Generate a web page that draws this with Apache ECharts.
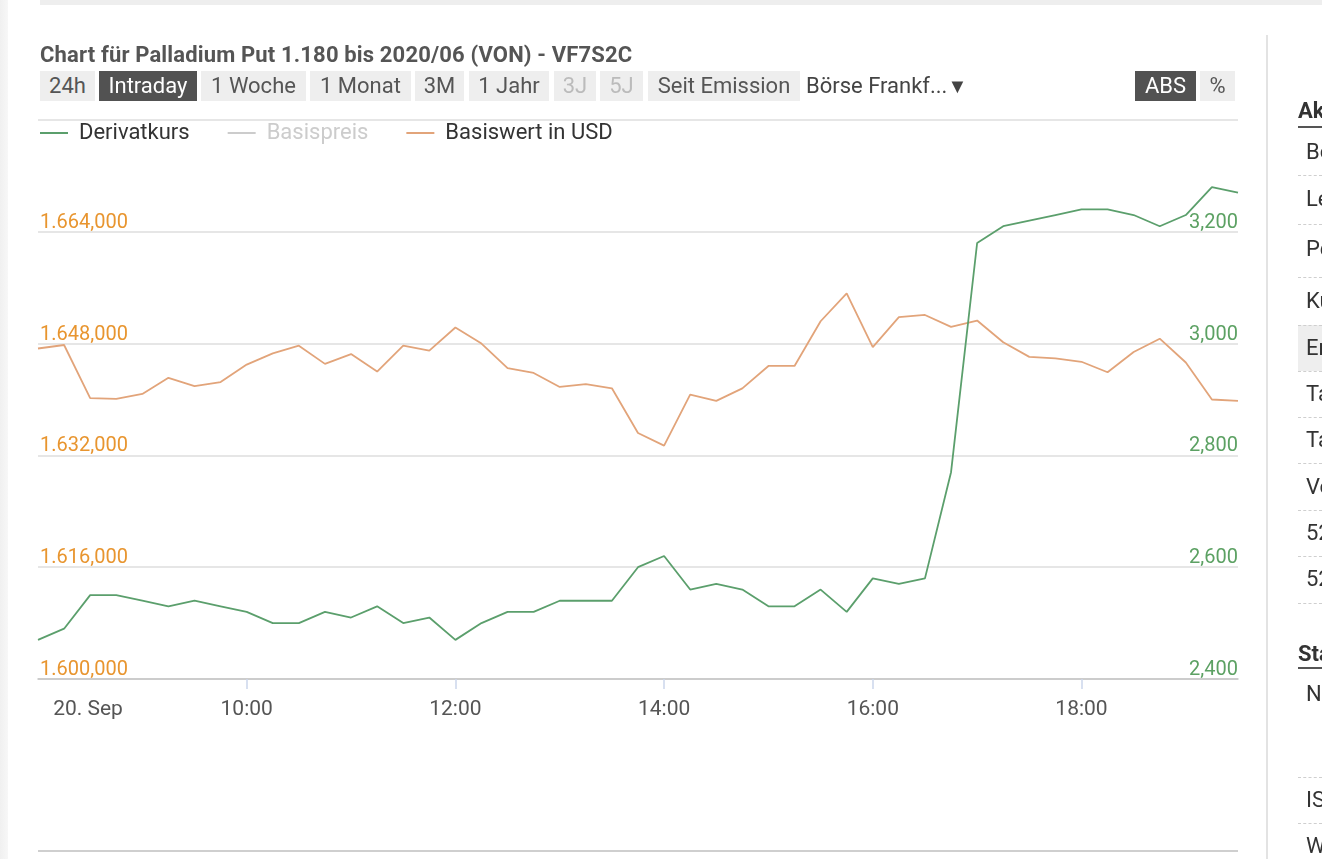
<!DOCTYPE html>
<html>
<head>
<meta charset="utf-8">
<script src="https://cdn.jsdelivr.net/npm/echarts@6/dist/echarts.min.js"></script>
<style>
  html, body { margin:0; padding:0; width:1322px; height:859px; overflow:hidden; background:#fff; font-family: Roboto, "Noto Sans", sans-serif; }
  #chart { position:absolute; left:0; top:0; width:1322px; height:859px; z-index:1; }
  .ui { position:absolute; z-index:2; font-family: Roboto, sans-serif; }
  .topbar { left:40px; top:0; width:1282px; height:5px; background:#eeeeee; }
  .leftstrip { left:0; top:0; width:8px; height:859px; background:linear-gradient(to right,#f0f0f0,#f7f7f7); }
  .title { left:40px; top:41px; font-size:22px; font-weight:bold; color:#555; line-height:28px; white-space:nowrap; letter-spacing:0.15px; }
  .btn { top:71px; height:30px; line-height:30px; font-size:22px; color:#555; background:#eeeeee; text-align:center; white-space:nowrap; }
  .btn.active { background:#525252; color:#fff; }
  .btn.dis { color:#bbb; }
  .plain { top:71px; height:30px; line-height:30px; font-size:22px; color:#444; white-space:nowrap; }
  .bottomline { left:38px; top:850px; width:1200px; height:2px; background:#cfcfcf; }
  .vline { left:1266px; top:35px; width:2px; height:824px; background:#e3e3e3; }
  .side { left:1298px; width:100px; overflow:hidden; font-size:22px; color:#333; white-space:nowrap; }
  .sideh { font-weight:bold; color:#333; }
  .uline { left:1298px; width:24px; height:2px; background:#555; }
  .dash { left:1298px; width:24px; height:0; border-top:1px dashed #cfcfcf; }
  .rowbg { left:1298px; width:24px; background:#eeeeee; }
  #clip { position:absolute; left:0; top:0; width:1322px; height:859px; overflow:hidden; z-index:2; }
</style>
</head>
<body>
<div id="chart"></div>
<div id="clip">
  <div class="ui topbar"></div>
  <div class="ui leftstrip"></div>
  <div class="ui title">Chart für Palladium Put 1.180 bis 2020/06 (VON) - VF7S2C</div>
  <div class="ui btn" style="left:40px;width:55px;">24h</div>
  <div class="ui btn active" style="left:99px;width:98px;">Intraday</div>
  <div class="ui btn" style="left:201px;width:105px;">1 Woche</div>
  <div class="ui btn" style="left:310px;width:101px;">1 Monat</div>
  <div class="ui btn" style="left:415px;width:49px;">3M</div>
  <div class="ui btn" style="left:469px;width:80px;">1 Jahr</div>
  <div class="ui btn dis" style="left:554px;width:42px;">3J</div>
  <div class="ui btn dis" style="left:600px;width:43px;">5J</div>
  <div class="ui btn" style="left:648px;width:152px;">Seit Emission</div>
  <div class="ui plain" style="left:806px;">Börse Frankf...<span style="font-size:20px;">▼</span></div>
  <div class="ui btn active" style="left:1135px;width:61px;">ABS</div>
  <div class="ui btn" style="left:1200px;width:35px;">%</div>
  <div class="ui bottomline"></div>
  <div class="ui vline"></div>

  <div class="ui side sideh" style="top:97px;line-height:28px;">Aktuelle Kurse</div>
  <div class="ui uline" style="top:126px;"></div>
  <div class="ui rowbg" style="top:325px;height:46px;"></div>
  <div class="ui side" style="top:138px;left:1306px;line-height:28px;">Börse</div>
  <div class="ui dash" style="top:175px;"></div>
  <div class="ui side" style="top:185px;left:1306px;line-height:28px;">Letzter Kurs</div>
  <div class="ui dash" style="top:224px;"></div>
  <div class="ui side" style="top:235px;left:1306px;line-height:28px;">Performance</div>
  <div class="ui dash" style="top:277px;"></div>
  <div class="ui side" style="top:287px;left:1306px;line-height:28px;">Kurszeit</div>
  <div class="ui dash" style="top:325px;"></div>
  <div class="ui side" style="top:334px;left:1306px;line-height:28px;">Eröffnung</div>
  <div class="ui dash" style="top:371px;"></div>
  <div class="ui side" style="top:380px;left:1306px;line-height:28px;">Tageshoch</div>
  <div class="ui dash" style="top:417px;"></div>
  <div class="ui side" style="top:426px;left:1306px;line-height:28px;">Tagestief</div>
  <div class="ui dash" style="top:463px;"></div>
  <div class="ui side" style="top:473px;left:1306px;line-height:28px;">Vortag</div>
  <div class="ui dash" style="top:510px;"></div>
  <div class="ui side" style="top:519px;left:1306px;line-height:28px;">52W Hoch</div>
  <div class="ui dash" style="top:556px;"></div>
  <div class="ui side" style="top:565px;left:1306px;line-height:28px;">52W Tief</div>
  <div class="ui dash" style="top:603px;"></div>

  <div class="ui side sideh" style="top:640px;line-height:28px;">Stammdaten</div>
  <div class="ui uline" style="top:667px;"></div>
  <div class="ui side" style="top:680px;left:1306px;line-height:28px;">Name</div>
  <div class="ui dash" style="top:777px;"></div>
  <div class="ui side" style="top:786px;left:1306px;line-height:28px;">ISIN</div>
  <div class="ui dash" style="top:823px;"></div>
  <div class="ui side" style="top:832px;left:1306px;line-height:28px;">WKN</div>
</div>
<script>
// ---- Data ----
const times = ['08:00','08:15','08:30','08:45','09:00','09:15','09:30','09:45',
  '10:00','10:15','10:30','10:45','11:00','11:15','11:30','11:45',
  '12:00','12:15','12:30','12:45','13:00','13:15','13:30','13:45',
  '14:00','14:15','14:30','14:45','15:00','15:15','15:30','15:45',
  '16:00','16:15','16:30','16:45','17:00','17:15','17:30','17:45',
  '18:00','18:15','18:30','18:45','19:00','19:15','19:30'];
const firstTickLabel = '20. Sep';
const derivatkurs = [2.47, 2.49, 2.55, 2.55, 2.54, 2.53, 2.54, 2.53,
  2.52, 2.50, 2.50, 2.52, 2.51, 2.53, 2.50, 2.51,
  2.47, 2.50, 2.52, 2.52, 2.54, 2.54, 2.54, 2.60,
  2.62, 2.56, 2.57, 2.56, 2.53, 2.53, 2.56, 2.52,
  2.58, 2.57, 2.58, 2.77, 3.18, 3.21, 3.22, 3.23,
  3.24, 3.24, 3.23, 3.21, 3.23, 3.28, 3.27];
const basispreis = [];
const basiswertUSD = [1647.3, 1647.8, 1640.2, 1640.1, 1640.8, 1643.1, 1641.9, 1642.5,
  1645.0, 1646.6, 1647.7, 1645.1, 1646.5, 1644.0, 1647.7, 1647.0,
  1650.3, 1648.0, 1644.5, 1643.8, 1641.8, 1642.2, 1641.6, 1635.2,
  1633.4, 1640.7, 1639.8, 1641.6, 1644.8, 1644.8, 1651.2, 1655.2,
  1647.5, 1651.8, 1652.1, 1650.4, 1651.3, 1648.2, 1646.1, 1645.9,
  1645.4, 1643.9, 1646.8, 1648.7, 1645.3, 1640.0, 1639.8];
const leftAxis = { min: 1600, max: 1680, interval: 16 };
const rightAxis = { min: 2.4, max: 3.4, interval: 0.2 };

function fmtDE(v, dec) {
  const s = Math.abs(v).toFixed(dec).split('.');
  const intPart = s[0].replace(/\B(?=(\d{3})+(?!\d))/g, '.');
  return (v < 0 ? '-' : '') + intPart + (dec ? ',' + s[1] : '');
}

const GREEN = '#5b9f6c', GREEN_LBL = '#5ca163';
const ORANGE = '#e2a47a', ORANGE_LBL = '#e8952f';
const FONT = 'Roboto';

const chart = echarts.init(document.getElementById('chart'), null, { renderer: 'canvas' });
chart.setOption({
  animation: false,
  textStyle: { fontFamily: FONT },
  grid: { left: 38, right: 84, top: 120, bottom: 180, containLabel: false },
  legend: {
    left: 40, top: 122, padding: 0, itemGap: 38, itemWidth: 28, itemHeight: 2, icon: 'rect',
    inactiveColor: '#cccccc',
    textStyle: { fontFamily: FONT, fontSize: 22, color: '#333', lineHeight: 22, padding: [0, 0, 0, 6] },
    data: ['Derivatkurs', 'Basispreis', 'Basiswert in USD'],
    selected: { 'Basispreis': false }
  },
  xAxis: {
    type: 'category', data: times, boundaryGap: false,
    axisLine: { lineStyle: { color: '#c4c4c4', width: 1.5 } },
    axisTick: { show: true, length: 10, lineStyle: { color: '#ccd6eb', width: 1.5 },
      interval: function (i) { return i > 0 && i % 8 === 0; } },
    axisLabel: {
      fontFamily: FONT, fontSize: 21, color: '#555', margin: 20,
      interval: function (i) { return i % 8 === 0; },
      formatter: function (v, i) { return i === 0 ? '{d|' + firstTickLabel + '}' : v; },
      rich: { d: { fontFamily: FONT, fontSize: 21, color: '#555', padding: [0, 0, 0, 100] } }
    },
    splitLine: { show: false }
  },
  yAxis: [
    {
      type: 'value', position: 'left', min: leftAxis.min, max: leftAxis.max, interval: leftAxis.interval,
      axisLine: { show: false }, axisTick: { show: false },
      axisLabel: { inside: true, margin: 2, verticalAlign: 'bottom', showMaxLabel: false,
        fontFamily: FONT, fontSize: 20, color: ORANGE_LBL, lineHeight: 18,
        formatter: function (v) { return fmtDE(v, 3); } },
      splitLine: { show: true, lineStyle: { color: '#dedede', width: 1.5 } }
    },
    {
      type: 'value', position: 'right', min: rightAxis.min, max: rightAxis.max, interval: rightAxis.interval,
      axisLine: { show: false }, axisTick: { show: false },
      axisLabel: { inside: true, margin: 0, verticalAlign: 'bottom', showMaxLabel: false,
        fontFamily: FONT, fontSize: 20, color: GREEN_LBL, lineHeight: 18,
        formatter: function (v) { return fmtDE(v, 3); } },
      splitLine: { show: false }
    }
  ],
  series: [
    { name: 'Derivatkurs', type: 'line', yAxisIndex: 1, data: derivatkurs, symbol: 'none',
      lineStyle: { color: GREEN, width: 1.8 }, itemStyle: { color: GREEN }, z: 3 },
    { name: 'Basispreis', type: 'line', yAxisIndex: 0, data: basispreis, symbol: 'none',
      lineStyle: { color: '#b0b0b0', width: 1.8 }, itemStyle: { color: '#b0b0b0' } },
    { name: 'Basiswert in USD', type: 'line', yAxisIndex: 0, data: basiswertUSD, symbol: 'none',
      lineStyle: { color: ORANGE, width: 1.8 }, itemStyle: { color: ORANGE }, z: 2 }
  ]
});
</script>
</body>
</html>
